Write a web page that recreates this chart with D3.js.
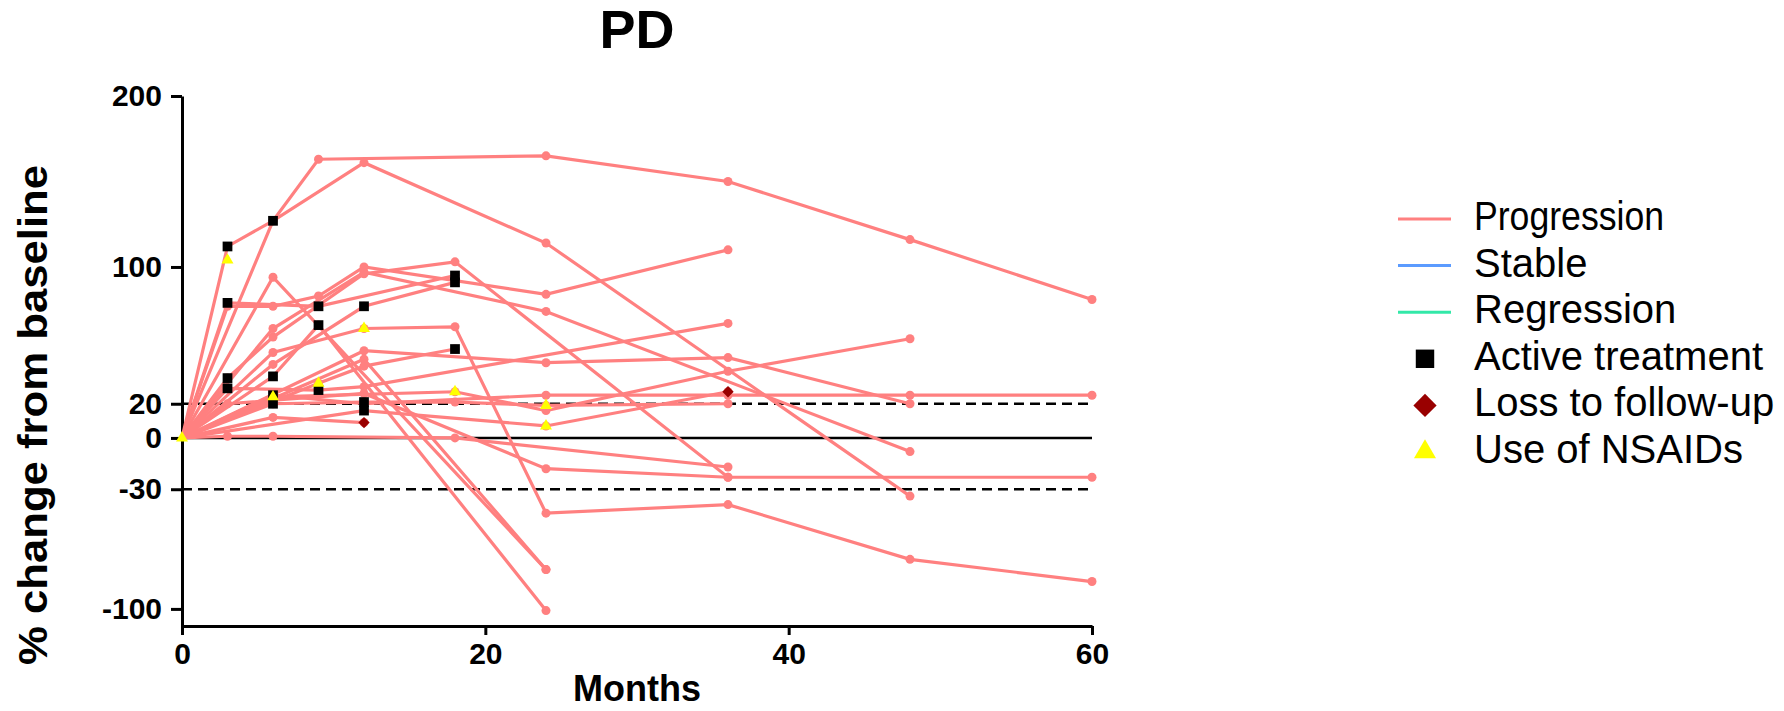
<!DOCTYPE html>
<html><head><meta charset="utf-8">
<script src="https://cdn.jsdelivr.net/npm/d3@7"></script>
<style>html,body{margin:0;padding:0;background:#fff;} svg{display:block;font-family:"Liberation Sans",Arial,Helvetica,sans-serif;}</style>
</head><body><svg id="chart" width="1784" height="711"></svg>
<script>
// ---- data (months, % change from baseline) ----
const pt01 = [[0,0],[6,127],[9,163],[24,165],[36,150],[48,116],[60,81]];
const pt02 = [[0,0],[3,112],[6,127],[12,161],[24,114],[48,-34]];
const pt03 = [[0,0],[3,77],[6,77],[9,83],[12,100],[24,84],[36,110]];
const pt04 = [[0,0],[6,64],[12,97],[24,74],[48,-8]];
const pt05 = [[0,0],[3,35],[6,59],[12,96],[18,103],[36,-23],[60,-23]];
const pt06 = [[0,0],[6,94],[24,-77]];
const pt07 = [[0,0],[6,50],[12,64],[18,65],[24,-44],[36,-39],[48,-71],[60,-84]];
const pt08 = [[0,0],[3,79],[9,77],[18,95]];
const pt09 = [[0,0],[6,43],[12,77],[18,91]];
const pt10 = [[0,0],[6,36],[9,66],[24,-101]];
const pt11 = [[0,0],[12,51],[24,44],[36,47],[48,20]];
const pt12 = [[0,0],[3,29],[9,28],[12,30],[36,67]];
const pt13 = [[0,0],[9,32],[12,42],[18,52]];
const pt14 = [[0,0],[6,20],[12,21],[18,21],[24,19],[36,20]];
const pt15 = [[0,0],[3,1],[6,1],[18,0],[36,-17]];
const pt16 = [[0,0],[3,20],[12,26],[24,-18],[36,-23]];
const pt17 = [[0,0],[6,12],[12,9]];
const pt18 = [[0,0],[12,16],[24,7],[36,27]];
const pt19 = [[0,0],[6,25],[12,20],[24,25],[36,25],[48,25],[60,25]];
const pt20 = [[0,0],[6,24],[18,27],[24,16],[36,39],[48,58]];
const pt21 = [[0,0],[12,46],[24,-77]];
const progression = [pt01,pt02,pt03,pt04,pt05,pt06,pt07,pt08,pt09,pt10,pt11,pt12,pt13,pt14,pt15,pt16,pt17,pt18,pt19,pt20,pt21];

const activeTreatment = [[3,112],[3,79],[3,35],[3,29],[6,127],[6,36],[6,25],[6,20],[9,77],[9,66],[9,28],[12,77],[12,21],[12,16],[18,95],[18,91],[18,52]];
const lossToFollowUp = [[12,9],[36,27]];
const nsaids = [[0,0],[3,104],[6,24],[9,32],[12,64],[18,27],[24,19],[24,7]];

const xTicks = [0,20,40,60];
const yTicks = [200,100,20,0,-30,-100];
const refSolid = [0];
const refDashed = [20,-30];

const legendLabels = ["Progression","Stable","Regression","Active treatment","Loss to follow-up","Use of NSAIDs"];
const legendKinds = ["line","line","line","square","diamond","triangle"];
const legendColors = ["#FF8080","#5B9BFF","#33E8A8","#000000","#990000","#FFFF00"];

// ---- drawing ----
const svg = d3.select('#chart');
const x = d3.scaleLinear().domain([0,60]).range([182,1092]);
const y = d3.scaleLinear().domain([-110,200]).range([626,96]);
const pink = "#FF8080";

svg.append('text').attr('x',637).attr('y',48).attr('text-anchor','middle')
  .attr('font-size',54).attr('font-weight','bold').text('PD');

// reference lines
svg.selectAll('.ref').data(refSolid).enter().append('line')
  .attr('x1',x(0)).attr('x2',x(60)).attr('y1',d=>y(d)).attr('y2',d=>y(d))
  .attr('stroke','#000').attr('stroke-width',2.5);
svg.selectAll('.refd').data(refDashed).enter().append('line')
  .attr('x1',x(0)).attr('x2',x(60)).attr('y1',d=>y(d)).attr('y2',d=>y(d))
  .attr('stroke','#000').attr('stroke-width',2.5).attr('stroke-dasharray','10,6');

// axes
const fmt = d => String(d);
const yAxis = svg.append('g').attr('transform',`translate(${x(0)},0)`)
  .call(d3.axisLeft(y).tickValues(yTicks).tickFormat(fmt).tickSize(11).tickSizeOuter(0).tickPadding(9));
const xAxis = svg.append('g').attr('transform',`translate(0,${y(-110)})`)
  .call(d3.axisBottom(x).tickValues(xTicks).tickFormat(fmt).tickSize(9).tickSizeOuter(0).tickPadding(8));
[yAxis,xAxis].forEach(g=>{
  g.selectAll('path,line').attr('stroke','#000').attr('stroke-width',3);
  g.selectAll('text').attr('font-size',30).attr('font-weight','bold').attr('fill','#000')
    .attr('font-family','"Liberation Sans",Arial,sans-serif');
});

// axis titles
svg.append('text').attr('x',637).attr('y',701).attr('text-anchor','middle')
  .attr('font-size',36).attr('font-weight','bold').text('Months');
svg.append('text').attr('transform','translate(47,415) rotate(-90)').attr('text-anchor','middle')
  .attr('font-size',40).attr('font-weight','bold')
  .attr('textLength',500).attr('lengthAdjust','spacingAndGlyphs').text('% change from baseline');

// series lines
const line = d3.line().x(d=>x(d[0])).y(d=>y(d[1]));
const series = svg.append('g');
series.selectAll('path').data(progression).enter().append('path')
  .attr('d',line).attr('fill','none').attr('stroke',pink).attr('stroke-width',3.2);
series.selectAll('g.pts').data(progression).enter().append('g')
  .selectAll('circle').data(d=>d.slice(1)).enter().append('circle')
  .attr('cx',d=>x(d[0])).attr('cy',d=>y(d[1])).attr('r',4.5).attr('fill',pink);

// markers
const sq = d3.symbol().type(d3.symbolSquare).size(95);
const di = d3.symbol().type(d3.symbolSquare).size(64);
const tr = d3.symbol().type(d3.symbolTriangle).size(62);
svg.append('g').selectAll('path').data(activeTreatment).enter().append('path')
  .attr('d',sq).attr('transform',d=>`translate(${x(d[0])},${y(d[1])})`).attr('fill','#000');
svg.append('g').selectAll('path').data(lossToFollowUp).enter().append('path')
  .attr('d',di).attr('transform',d=>`translate(${x(d[0])},${y(d[1])}) rotate(45)`).attr('fill','#990000');
svg.append('g').selectAll('path').data(nsaids).enter().append('path')
  .attr('d',tr).attr('transform',d=>`translate(${x(d[0])},${y(d[1])})`).attr('fill','#FFFF00');

// legend
const lg = svg.append('g');
legendLabels.forEach((lab,i)=>{
  const cy = 219 + i*46.6;
  const k = legendKinds[i];
  if (k==='line') {
    lg.append('line').attr('x1',1398).attr('x2',1451).attr('y1',cy).attr('y2',cy)
      .attr('stroke',legendColors[i]).attr('stroke-width',3);
  } else {
    const sym = k==='triangle' ? d3.symbolTriangle : d3.symbolSquare;
    const size = k==='square' ? 340 : k==='diamond' ? 270 : 210;
    lg.append('path').attr('d',d3.symbol().type(sym).size(size)())
      .attr('transform',`translate(1425,${cy})` + (k==='diamond' ? ' rotate(45)' : ''))
      .attr('fill',legendColors[i]);
  }
  const t = lg.append('text').attr('x',1474).attr('y',cy+11).attr('font-size',40).text(lab);
  if (lab==='Progression') t.attr('textLength',190).attr('lengthAdjust','spacingAndGlyphs');
});
</script></body></html>
